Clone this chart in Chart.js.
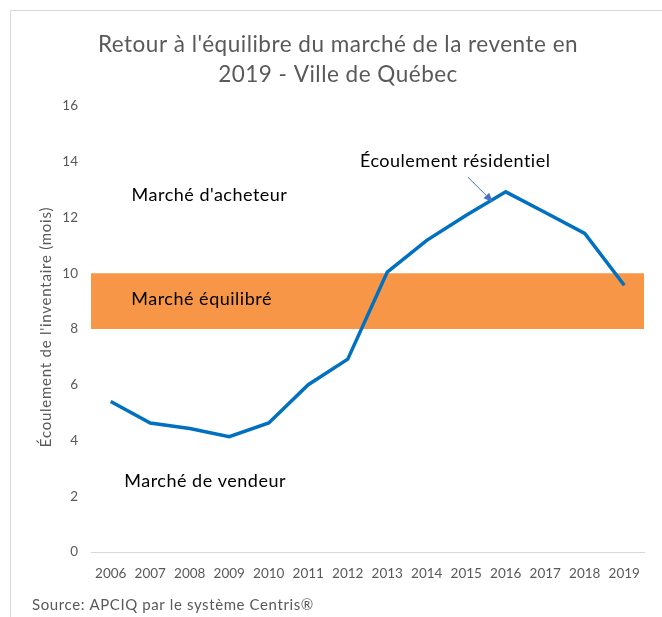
<!DOCTYPE html>
<html>
<head>
<meta charset="utf-8">
<script src="https://cdn.jsdelivr.net/npm/chart.js@4/dist/chart.umd.min.js"></script>
<style>
  html, body { margin: 0; padding: 0; background: #fff; }
  #wrap { width: 662px; height: 617px; position: relative; }
</style>
</head>
<body>
<div id="wrap"><canvas id="c"></canvas></div>
<script>
const years = ['2006','2007','2008','2009','2010','2011','2012','2013','2014','2015','2016','2017','2018','2019'];
const ecoulement = [5.4, 4.63, 4.43, 4.14, 4.63, 6.0, 6.92, 10.04, 11.18, 12.08, 12.92, 12.18, 11.43, 9.57];
const yTicks = [0, 2, 4, 6, 8, 10, 12, 14, 16];
const bandRange = [8, 10];
const titleLines = ["Retour à l'équilibre du marché de la revente en", "2019 - Ville de Québec"];
const yTitle = "Écoulement de l'inventaire (mois)";
const sourceText = "Source: APCIQ par le système Centris®";
const zoneLabels = [
  { text: "Marché d'acheteur", x: 2.5, y: 12.8 },
  { text: "Marché équilibré", x: 2.3, y: 9.08 },
  { text: "Marché de vendeur", x: 2.39, y: 2.55 },
  { text: "Écoulement résidentiel", x: 8.72, y: 14.03 }
];
const arrowFrom = { x: 9.04, y: 13.45 };
const arrowTo = { x: 9.67, y: 12.56 };

const FONT = "Lato, 'Noto Sans', sans-serif";
const GREY = '#595959';

const decor = {
  id: 'decor',
  beforeDraw(chart) {
    const ctx = chart.ctx;
    ctx.save();
    ctx.fillStyle = '#fff';
    ctx.fillRect(0, 0, chart.width, chart.height);
    ctx.strokeStyle = '#d9d9d9';
    ctx.lineWidth = 1;
    ctx.beginPath();
    ctx.moveTo(10.5, chart.height);
    ctx.lineTo(10.5, 10.5);
    ctx.lineTo(chart.width, 10.5);
    ctx.stroke();
    // title
    ctx.fillStyle = GREY;
    ctx.font = "22.5px " + FONT;
    ctx.letterSpacing = '0.5px';
    ctx.textAlign = 'center';
    ctx.textBaseline = 'middle';
    ctx.fillText(titleLines[0], 338, 45);
    ctx.fillText(titleLines[1], 338, 75);
    // y title
    ctx.save();
    ctx.translate(46, 327);
    ctx.rotate(-Math.PI / 2);
    ctx.font = "15px " + FONT;
    ctx.letterSpacing = '0.75px';
    ctx.fillText(yTitle, 0, 0);
    ctx.restore();
    // source
    ctx.font = "15px " + FONT;
    ctx.letterSpacing = '0.6px';
    ctx.textAlign = 'left';
    ctx.fillText(sourceText, 32, 605);
    ctx.restore();
  },
  beforeDatasetsDraw(chart) {
    const ctx = chart.ctx;
    const a = chart.chartArea;
    const y = chart.scales.y;
    const t = y.getPixelForValue(bandRange[1]);
    const b = y.getPixelForValue(bandRange[0]);
    ctx.save();
    ctx.fillStyle = '#F79646';
    ctx.fillRect(a.left, t, a.right - a.left, b - t);
    ctx.restore();
  },
  afterDatasetsDraw(chart) {
    const ctx = chart.ctx;
    const xs = chart.scales.x, ys = chart.scales.y;
    ctx.save();
    ctx.fillStyle = '#000';
    ctx.font = "18px " + FONT;
    ctx.letterSpacing = '0.5px';
    ctx.textAlign = 'center';
    ctx.textBaseline = 'middle';
    zoneLabels.forEach(l => ctx.fillText(l.text, xs.getPixelForValue(l.x), ys.getPixelForValue(l.y)));
    ctx.letterSpacing = '0px';
    // arrow
    const x1 = xs.getPixelForValue(arrowFrom.x), y1 = ys.getPixelForValue(arrowFrom.y);
    const x2 = xs.getPixelForValue(arrowTo.x), y2 = ys.getPixelForValue(arrowTo.y);
    const ang = Math.atan2(y2 - y1, x2 - x1);
    ctx.strokeStyle = '#4472C4';
    ctx.fillStyle = '#4472C4';
    ctx.lineWidth = 1;
    const hl = 9;
    ctx.beginPath();
    ctx.moveTo(x1, y1);
    ctx.lineTo(x2 - hl * Math.cos(ang), y2 - hl * Math.sin(ang));
    ctx.stroke();
    ctx.beginPath();
    ctx.moveTo(x2, y2);
    ctx.lineTo(x2 - hl * Math.cos(ang) + 4 * Math.sin(ang), y2 - hl * Math.sin(ang) - 4 * Math.cos(ang));
    ctx.lineTo(x2 - hl * Math.cos(ang) - 4 * Math.sin(ang), y2 - hl * Math.sin(ang) + 4 * Math.cos(ang));
    ctx.closePath();
    ctx.fill();
    ctx.restore();
  }
};

new Chart(document.getElementById('c'), {
  type: 'line',
  data: {
    labels: years,
    datasets: [{
      data: ecoulement,
      borderColor: '#0070C0',
      borderWidth: 3.5,
      pointRadius: 0,
      tension: 0,
      fill: false
    }]
  },
  options: {
    responsive: true,
    maintainAspectRatio: false,
    animation: false,
    layout: { padding: { left: 0, right: 18, top: 106, bottom: 25 } },
    plugins: { legend: { display: false }, title: { display: false }, tooltip: { enabled: false } },
    scales: {
      x: {
        type: 'category',
        offset: true,
        grid: { display: false, drawTicks: false },
        border: { display: true, color: '#d9d9d9', width: 1 },
        ticks: { color: GREY, font: { family: FONT, size: 13.5 }, padding: 14, maxRotation: 0, autoSkip: false },
        afterFit: s => { s.height = 40; }
      },
      y: {
        min: 0, max: 16,
        afterBuildTicks: s => { s.ticks = yTicks.map(v => ({ value: v })); },
        grid: { display: false, drawTicks: false },
        border: { display: false },
        ticks: { color: GREY, font: { family: FONT, size: 13.5 }, padding: 13 },
        afterFit: s => { s.width = 91; }
      }
    }
  },
  plugins: [decor]
});
</script>
</body>
</html>
